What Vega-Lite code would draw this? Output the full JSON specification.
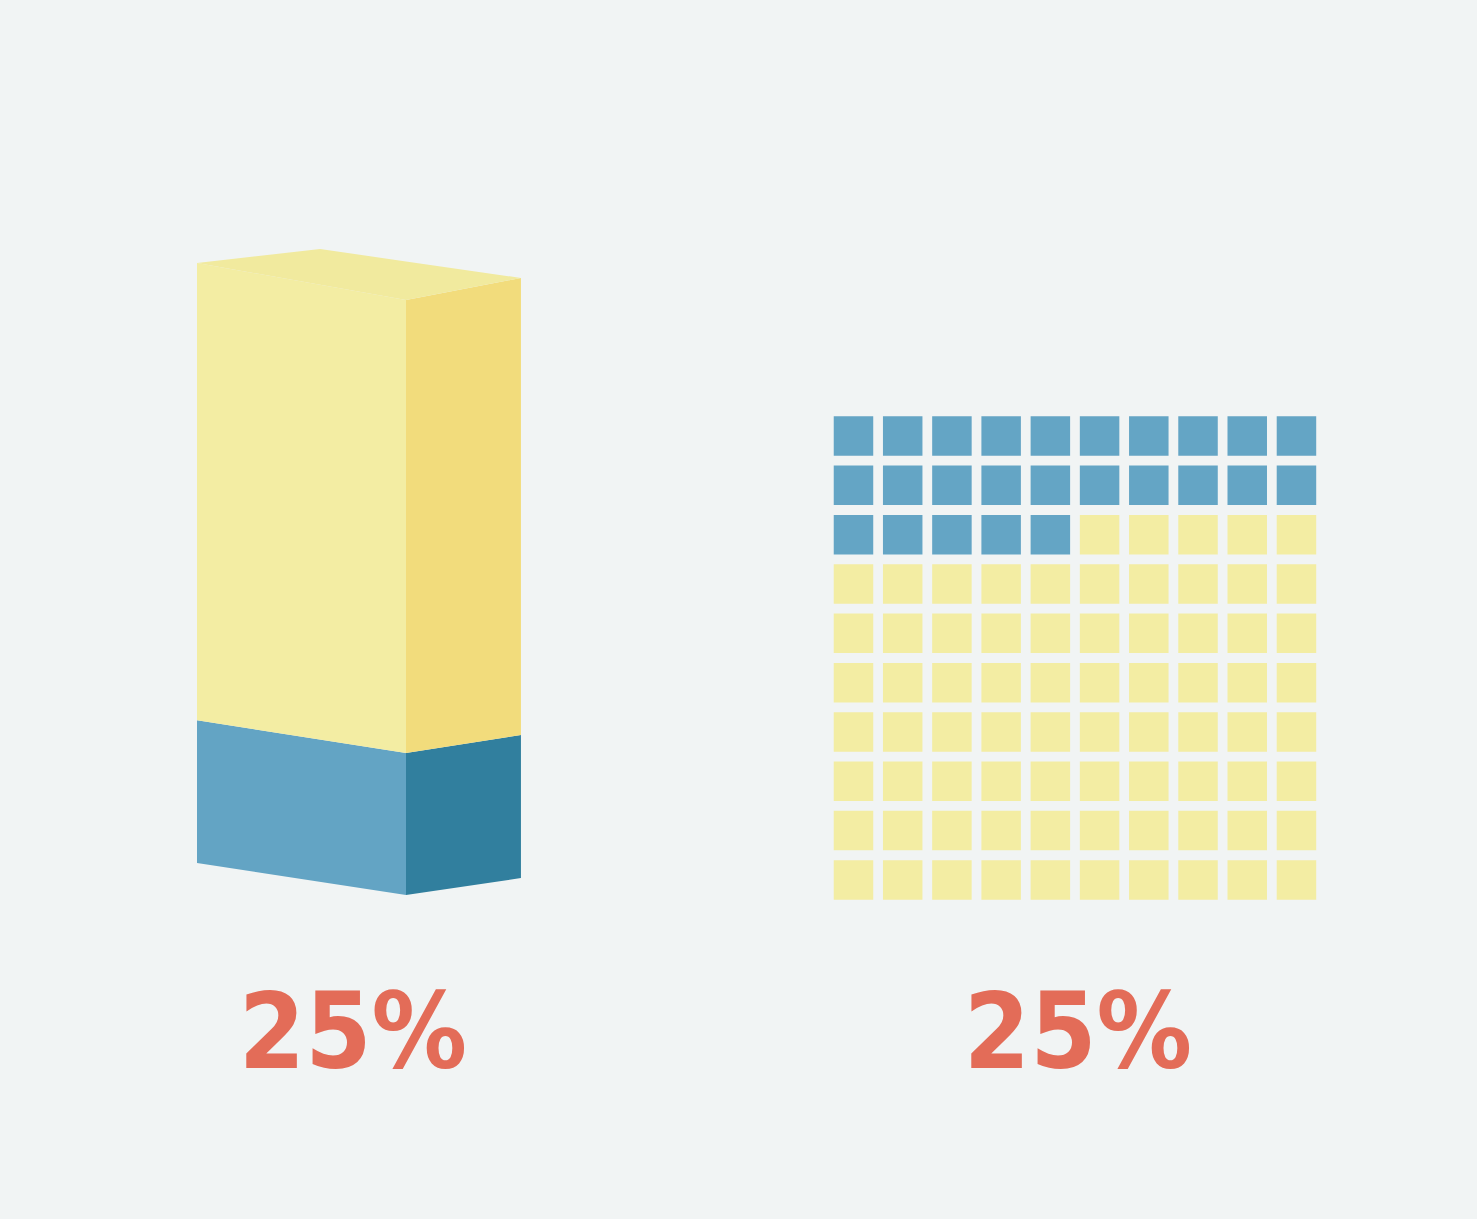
{
  "$schema": "https://vega.github.io/schema/vega-lite/v6.json",
  "background": "#f1f4f4",
  "padding": 0,
  "spacing": 0,
  "config": {"view": {"stroke": null}},
  "resolve": {"scale": {"color": "independent"}},
  "datasets": {
    "bar3d": [
      {"face": "front-share", "x": 0, "y": 0, "y2": 23.8},
      {"face": "front-share", "x": 1, "y": -5.33, "y2": 18.33},
      {"face": "front-rest", "x": 0, "y": 23.8, "y2": 100},
      {"face": "front-rest", "x": 1, "y": 18.33, "y2": 93.83},
      {"face": "side-share", "x": 1, "y": -5.33, "y2": 18.33},
      {"face": "side-share", "x": 1.55, "y": -2.5, "y2": 21.33},
      {"face": "side-rest", "x": 1, "y": 18.33, "y2": 93.83},
      {"face": "side-rest", "x": 1.55, "y": 21.33, "y2": 97.5},
      {"face": "top", "x": 0, "y": 100, "y2": 100},
      {"face": "top", "x": 0.589, "y": 96.37, "y2": 102.33},
      {"face": "top", "x": 1, "y": 93.83, "y2": 100.26},
      {"face": "top", "x": 1.55, "y": 97.5, "y2": 97.5}
    ],
    "waffle": [
      {"row": 0, "col": 0, "group": "share"}, {"row": 0, "col": 1, "group": "share"}, {"row": 0, "col": 2, "group": "share"}, {"row": 0, "col": 3, "group": "share"}, {"row": 0, "col": 4, "group": "share"}, {"row": 0, "col": 5, "group": "share"}, {"row": 0, "col": 6, "group": "share"}, {"row": 0, "col": 7, "group": "share"}, {"row": 0, "col": 8, "group": "share"}, {"row": 0, "col": 9, "group": "share"},
      {"row": 1, "col": 0, "group": "share"}, {"row": 1, "col": 1, "group": "share"}, {"row": 1, "col": 2, "group": "share"}, {"row": 1, "col": 3, "group": "share"}, {"row": 1, "col": 4, "group": "share"}, {"row": 1, "col": 5, "group": "share"}, {"row": 1, "col": 6, "group": "share"}, {"row": 1, "col": 7, "group": "share"}, {"row": 1, "col": 8, "group": "share"}, {"row": 1, "col": 9, "group": "share"},
      {"row": 2, "col": 0, "group": "share"}, {"row": 2, "col": 1, "group": "share"}, {"row": 2, "col": 2, "group": "share"}, {"row": 2, "col": 3, "group": "share"}, {"row": 2, "col": 4, "group": "share"}, {"row": 2, "col": 5, "group": "rest"}, {"row": 2, "col": 6, "group": "rest"}, {"row": 2, "col": 7, "group": "rest"}, {"row": 2, "col": 8, "group": "rest"}, {"row": 2, "col": 9, "group": "rest"},
      {"row": 3, "col": 0, "group": "rest"}, {"row": 3, "col": 1, "group": "rest"}, {"row": 3, "col": 2, "group": "rest"}, {"row": 3, "col": 3, "group": "rest"}, {"row": 3, "col": 4, "group": "rest"}, {"row": 3, "col": 5, "group": "rest"}, {"row": 3, "col": 6, "group": "rest"}, {"row": 3, "col": 7, "group": "rest"}, {"row": 3, "col": 8, "group": "rest"}, {"row": 3, "col": 9, "group": "rest"},
      {"row": 4, "col": 0, "group": "rest"}, {"row": 4, "col": 1, "group": "rest"}, {"row": 4, "col": 2, "group": "rest"}, {"row": 4, "col": 3, "group": "rest"}, {"row": 4, "col": 4, "group": "rest"}, {"row": 4, "col": 5, "group": "rest"}, {"row": 4, "col": 6, "group": "rest"}, {"row": 4, "col": 7, "group": "rest"}, {"row": 4, "col": 8, "group": "rest"}, {"row": 4, "col": 9, "group": "rest"},
      {"row": 5, "col": 0, "group": "rest"}, {"row": 5, "col": 1, "group": "rest"}, {"row": 5, "col": 2, "group": "rest"}, {"row": 5, "col": 3, "group": "rest"}, {"row": 5, "col": 4, "group": "rest"}, {"row": 5, "col": 5, "group": "rest"}, {"row": 5, "col": 6, "group": "rest"}, {"row": 5, "col": 7, "group": "rest"}, {"row": 5, "col": 8, "group": "rest"}, {"row": 5, "col": 9, "group": "rest"},
      {"row": 6, "col": 0, "group": "rest"}, {"row": 6, "col": 1, "group": "rest"}, {"row": 6, "col": 2, "group": "rest"}, {"row": 6, "col": 3, "group": "rest"}, {"row": 6, "col": 4, "group": "rest"}, {"row": 6, "col": 5, "group": "rest"}, {"row": 6, "col": 6, "group": "rest"}, {"row": 6, "col": 7, "group": "rest"}, {"row": 6, "col": 8, "group": "rest"}, {"row": 6, "col": 9, "group": "rest"},
      {"row": 7, "col": 0, "group": "rest"}, {"row": 7, "col": 1, "group": "rest"}, {"row": 7, "col": 2, "group": "rest"}, {"row": 7, "col": 3, "group": "rest"}, {"row": 7, "col": 4, "group": "rest"}, {"row": 7, "col": 5, "group": "rest"}, {"row": 7, "col": 6, "group": "rest"}, {"row": 7, "col": 7, "group": "rest"}, {"row": 7, "col": 8, "group": "rest"}, {"row": 7, "col": 9, "group": "rest"},
      {"row": 8, "col": 0, "group": "rest"}, {"row": 8, "col": 1, "group": "rest"}, {"row": 8, "col": 2, "group": "rest"}, {"row": 8, "col": 3, "group": "rest"}, {"row": 8, "col": 4, "group": "rest"}, {"row": 8, "col": 5, "group": "rest"}, {"row": 8, "col": 6, "group": "rest"}, {"row": 8, "col": 7, "group": "rest"}, {"row": 8, "col": 8, "group": "rest"}, {"row": 8, "col": 9, "group": "rest"},
      {"row": 9, "col": 0, "group": "rest"}, {"row": 9, "col": 1, "group": "rest"}, {"row": 9, "col": 2, "group": "rest"}, {"row": 9, "col": 3, "group": "rest"}, {"row": 9, "col": 4, "group": "rest"}, {"row": 9, "col": 5, "group": "rest"}, {"row": 9, "col": 6, "group": "rest"}, {"row": 9, "col": 7, "group": "rest"}, {"row": 9, "col": 8, "group": "rest"}, {"row": 9, "col": 9, "group": "rest"}
    ],
    "labels": [{"label": "25%"}]
  },
  "hconcat": [
    {
      "width": 720,
      "height": 1219,
      "layer": [
        {
          "data": {"name": "bar3d"},
          "mark": {"type": "area", "opacity": 1, "strokeWidth": 0},
          "encoding": {
            "x": {"field": "x", "type": "quantitative", "scale": {"domain": [-0.9426, 2.5024], "nice": false, "zero": false}, "axis": null},
            "y": {"field": "y", "type": "quantitative", "stack": null, "scale": {"domain": [-59.33, 143.83], "nice": false, "zero": false}, "axis": null},
            "y2": {"field": "y2"},
            "color": {"field": "face", "type": "nominal", "scale": {"domain": ["front-share", "front-rest", "side-share", "side-rest", "top"], "range": ["#63a4c4", "#f3eda3", "#317f9e", "#f2dc7c", "#f1ea9e"]}, "legend": null},
            "detail": {"field": "face"}
          }
        },
        {
          "data": {"name": "labels"},
          "mark": {"type": "text", "font": "DejaVu Sans Condensed, DejaVu Sans, sans-serif", "fontWeight": "bold", "fontSize": 106, "color": "#e36c58", "align": "center", "baseline": "alphabetic"},
          "encoding": {
            "x": {"datum": 0.746, "type": "quantitative"},
            "y": {"datum": -34.17, "type": "quantitative"},
            "text": {"field": "label"}
          }
        }
      ]
    },
    {
      "width": 757,
      "height": 1219,
      "layer": [
        {
          "data": {"name": "waffle"},
          "mark": {"type": "square", "size": 1560, "opacity": 1, "filled": true, "strokeWidth": 0},
          "encoding": {
            "x": {"field": "col", "type": "quantitative", "scale": {"domain": [-2.712, 12.668], "nice": false, "zero": false}, "axis": null},
            "y": {"field": "row", "type": "quantitative", "scale": {"domain": [-8.838, 15.873], "nice": false, "zero": false, "reverse": true}, "axis": null},
            "color": {"field": "group", "type": "nominal", "scale": {"domain": ["share", "rest"], "range": ["#64a5c5", "#f3eda3"]}, "legend": null}
          }
        },
        {
          "data": {"name": "labels"},
          "mark": {"type": "text", "font": "DejaVu Sans Condensed, DejaVu Sans, sans-serif", "fontWeight": "bold", "fontSize": 106, "color": "#e36c58", "align": "center", "baseline": "alphabetic"},
          "encoding": {
            "x": {"datum": 4.561, "type": "quantitative"},
            "y": {"datum": 12.81, "type": "quantitative"},
            "text": {"field": "label"}
          }
        }
      ]
    }
  ]
}
